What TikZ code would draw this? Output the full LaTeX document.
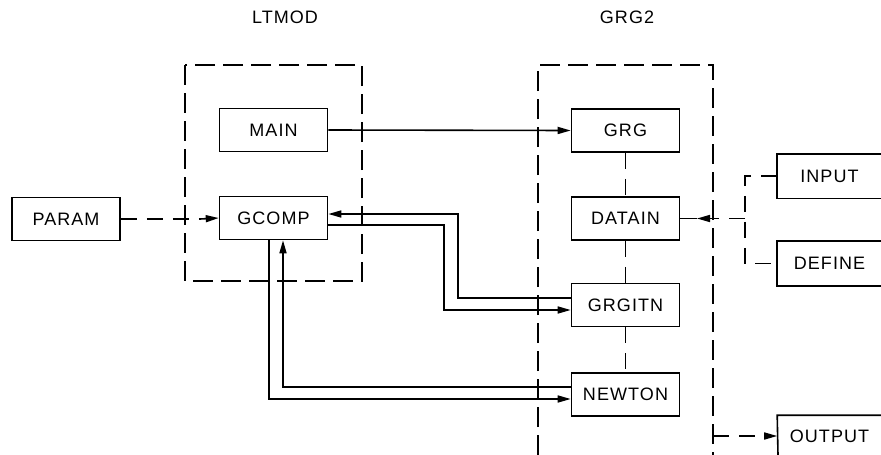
\documentclass[tikz,border=0pt]{standalone}
\usepackage{fontspec}
\setmainfont[LetterSpace=6]{Liberation Sans}
\usetikzlibrary{arrows.meta}
\begin{document}
\begin{tikzpicture}[x=1pt,y=-1pt,
  line width=1.6pt,
  font=\fontsize{18}{20}\selectfont,
  blk/.style={draw,rectangle,minimum width=108pt,minimum height=43pt,inner sep=0pt},
  open/.style={rectangle,minimum width=103pt,minimum height=43pt,inner sep=0pt},
  grp/.style={dash pattern=on 20pt off 8pt},
  dsh/.style={dash pattern=on 16pt off 10pt},
  arr/.style={-{Triangle[length=13pt,width=7pt]}},
  lbl/.style={inner sep=0pt}]
\useasboundingbox (0,0) rectangle (881,455);
% group frames
\draw[grp] (185,65) rectangle (362,281);
\draw[grp] (538,455) -- (538,65) -- (713,65) -- (713,455);
\node[lbl] (ltmod) at (285,17) {LTMOD};
\node[lbl] (grg2) at (627,17) {GRG2};
% boxes
\node[blk] (MAIN) at (273.5,130) {MAIN};
\node[blk] (GCOMP) at (273.5,218) {GCOMP};
\node[blk] (PARAM) at (66,219) {PARAM};
\node[blk] (GRG) at (625.5,130.5) {GRG};
\node[blk] (DATAIN) at (625.5,218.5) {DATAIN};
\node[blk] (GRGITN) at (625.5,305) {GRGITN};
\node[blk] (NEWTON) at (625.5,394.5) {NEWTON};
\node[open] (INPUT) at (829.5,176) {INPUT};
\node[open] (DEFINE) at (829.5,263.5) {DEFINE};
\node[open,minimum height=40pt] (OUTPUT) at (829.5,436) {OUTPUT};
\draw (INPUT.north east) -- (INPUT.north west) -- (INPUT.south west) -- (INPUT.south east);
\draw (DEFINE.north east) -- (DEFINE.north west) -- (DEFINE.south west) -- (DEFINE.south east);
\coordinate (obot) at (778,455);
\draw (OUTPUT.north east) -- (OUTPUT.north west) -- (obot);
% connectors
\draw[arr] (MAIN.east) -- (GRG.west);
\coordinate (pa) at (200,219);
\draw[dsh] (PARAM.east) -- (pa);
\draw[arr] (pa) -- (GCOMP.west);
\draw[dsh] (GRG.south) -- (DATAIN.north);
\draw[dsh] (DATAIN.south) -- (GRGITN.north);
\draw[dsh] (GRGITN.south) -- (NEWTON.north);
% GCOMP <-> GRGITN
\coordinate (u1) at (458,298);
\coordinate (u2) at (458,214);
\draw[arr] (GRGITN.west |- u1) -- (u1) -- (u2) -- (GCOMP.east |- u2);
\coordinate (l1) at (444,225);
\coordinate (l2) at (444,310);
\draw[arr] (GCOMP.east |- l1) -- (l1) -- (l2) -- (GRGITN.west |- l2);
% GCOMP <-> NEWTON
\coordinate (n1) at (269,399);
\draw[arr] (GCOMP.south -| n1) -- (n1) -- (NEWTON.west |- n1);
\coordinate (n2) at (283,387);
\draw[arr] (NEWTON.west |- n2) -- (n2) -- (GCOMP.south -| n2);
% DATAIN <-> INPUT / DEFINE
\coordinate (bk) at (745,218.5);
\coordinate (bd) at (713,218.5);
\coordinate (tip) at (697,218.5);
\draw[dsh] (INPUT.west) -| (bk) |- (DEFINE.west);
\draw[dsh] (bk) -- (bd);
\draw[arr] (bd) -- (tip);
\draw (tip) -- (DATAIN.east);
% OUTPUT
\coordinate (ob) at (713,436);
\draw[dsh,arr] (ob) -- (OUTPUT.west);
\end{tikzpicture}
\end{document}
